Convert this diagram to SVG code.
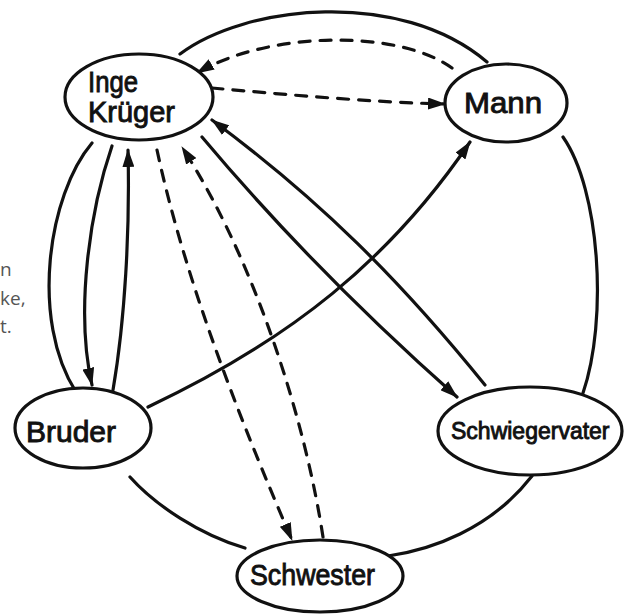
<svg xmlns="http://www.w3.org/2000/svg" width="631" height="614" viewBox="0 0 631 614">
<style>
.c{fill:none;stroke:#111;stroke-width:3.2;stroke-linecap:round}
.d{stroke-dasharray:11 10}
.n{fill:#fff;stroke:#111;stroke-width:3.2}
.t{font-family:"Liberation Sans",Arial,sans-serif;font-size:29px;fill:#111;stroke:#111;stroke-width:0.9}
.g{font-family:"Open Sans","Noto Sans",sans-serif;font-size:19px;fill:#555}
</style>
<defs>
<marker id="a" viewBox="0 0 18 12" refX="17" refY="6" markerWidth="18" markerHeight="12" markerUnits="userSpaceOnUse" orient="auto">
<path d="M0,0 L18,6 L0,12 Z" fill="#111"/>
</marker>
</defs>
<g id="margin-text">
<text class="g" x="0" y="276">n</text>
<text class="g" x="0" y="305">ke,</text>
<text class="g" x="0" y="333">t.</text>
</g>
<g id="connectors">
<path class="c" d="M180,54 C245,5 400,-12 487,62"/>
<path class="c" d="M563,137 C600,190 608,320 583,393"/>
<path class="c" d="M532,476 C490,530 430,550 388,556"/>
<path class="c" d="M245,548 C200,535 155,505 130,477"/>
<path class="c" d="M92,143 C48,195 30,320 76,392"/>
<path class="c" d="M112,146 C90,210 75,310 92,385" marker-end="url(#a)"/>
<path class="c" d="M113,390 C125,320 130,230 128,150" marker-end="url(#a)"/>
<path class="c d" d="M157,150 C185,280 240,420 292,540" marker-end="url(#a)"/>
<path class="c d" d="M323,537 C305,420 255,260 182,147" marker-end="url(#a)"/>
<path class="c" d="M202,137 C280,230 370,320 457,397" marker-end="url(#a)"/>
<path class="c" d="M485,385 C400,280 320,200 212,120" marker-end="url(#a)"/>
<path class="c" d="M148,407 C290,340 390,260 470,142" marker-end="url(#a)"/>
<path class="c d" d="M212,88 C290,95 370,102 445,104" marker-end="url(#a)"/>
<path class="c d" d="M452,68 C400,30 270,30 197,73" marker-end="url(#a)"/>
</g>
<g id="inge">
<ellipse class="n" cx="139" cy="97" rx="74" ry="43"/>
<text class="t" x="88" y="92" textLength="50" lengthAdjust="spacingAndGlyphs">Inge</text>
<text class="t" x="88" y="122" textLength="87" lengthAdjust="spacingAndGlyphs">Krüger</text>
</g>
<g id="mann">
<ellipse class="n" cx="506" cy="103" rx="61" ry="39"/>
<text class="t" x="464" y="113" textLength="78" lengthAdjust="spacingAndGlyphs">Mann</text>
</g>
<g id="bruder">
<ellipse class="n" cx="83" cy="428" rx="68" ry="40"/>
<text class="t" x="26" y="442" textLength="90" lengthAdjust="spacingAndGlyphs">Bruder</text>
</g>
<g id="schwiegervater">
<ellipse class="n" cx="530" cy="431" rx="92" ry="44"/>
<text class="t" x="451" y="439" style="font-size:23px">Schwiegervater</text>
</g>
<g id="schwester">
<ellipse class="n" cx="320" cy="576" rx="83" ry="36"/>
<text class="t" x="250" y="585" textLength="125" lengthAdjust="spacingAndGlyphs">Schwester</text>
</g>
</svg>
